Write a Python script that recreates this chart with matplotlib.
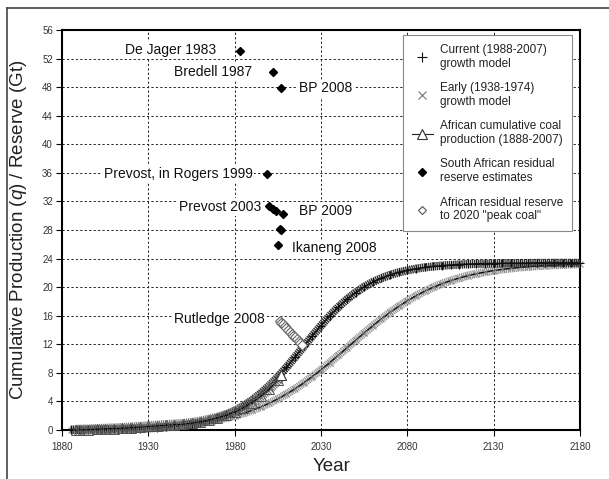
import matplotlib
matplotlib.use('Agg')
import matplotlib.pyplot as plt
from matplotlib.lines import Line2D

plt.rcParams['font.family'] = ['Liberation Sans', 'DejaVu Sans']
plt.rcParams['mathtext.fontset'] = 'custom'
plt.rcParams['mathtext.it'] = 'Liberation Sans:italic'
plt.rcParams['mathtext.rm'] = 'Liberation Sans'
plt.rcParams['lines.scale_dashes'] = False

# ---------------- data ----------------
model_years = list(range(1885, 2181, 5))
current_model = [0.02, 0.03, 0.04, 0.05, 0.07, 0.09, 0.11, 0.14, 0.18, 0.24,
                 0.30, 0.39, 0.50, 0.64, 0.82, 1.05, 1.34, 1.70, 2.14, 2.69,
                 3.36, 4.16, 5.11, 6.20, 7.43, 8.78, 10.22, 11.70, 13.18, 14.62,
                 15.97, 17.20, 18.29, 19.24, 20.04, 20.71, 21.26, 21.70, 22.07, 22.35,
                 22.58, 22.76, 22.90, 23.01, 23.10, 23.16, 23.22, 23.26, 23.29, 23.31,
                 23.33, 23.35, 23.36, 23.37, 23.38, 23.38, 23.39, 23.39, 23.39, 23.39]
early_model = [0.07, 0.08, 0.10, 0.12, 0.15, 0.17, 0.21, 0.25, 0.30, 0.35,
               0.42, 0.50, 0.60, 0.72, 0.85, 1.01, 1.20, 1.42, 1.69, 1.99,
               2.34, 2.75, 3.22, 3.75, 4.35, 5.03, 5.77, 6.59, 7.48, 8.42,
               9.41, 10.44, 11.49, 12.54, 13.58, 14.59, 15.55, 16.46, 17.31, 18.08,
               18.79, 19.42, 19.98, 20.47, 20.90, 21.27, 21.60, 21.88, 22.11, 22.32,
               22.49, 22.63, 22.76, 22.86, 22.95, 23.02, 23.08, 23.13, 23.18, 23.21]

prod_years = [1888, 1890, 1895, 1900, 1905, 1910, 1915, 1920, 1925, 1930, 1935, 1940,
              1945, 1950, 1955, 1960, 1965, 1970, 1975, 1980, 1985, 1990, 1995, 2000,
              2005, 2007]
production = [0.0, 0.02, 0.05, 0.10, 0.15, 0.20, 0.26, 0.33, 0.40, 0.50, 0.58, 0.66,
              0.74, 0.82, 0.96, 1.15, 1.40, 1.70, 2.05, 2.50, 3.10, 3.85, 4.70, 5.70,
              7.00, 7.70]

sa_years = [1983, 2002, 2007, 1999, 2000, 2002, 2004, 2008, 2006, 2007, 2005]
sa_reserve = [53.0, 50.1, 47.9, 35.9, 31.3, 31.0, 30.6, 30.3, 28.1, 28.0, 25.9]

peak_years = [2006, 2007, 2008, 2009, 2010, 2011, 2012, 2013, 2014, 2015, 2016,
              2017, 2018, 2019]
peak_reserve = [15.3, 15.0, 14.8, 14.5, 14.3, 14.0, 13.7, 13.5, 13.2, 13.0, 12.7,
                12.4, 12.2, 11.9]

labels_txt = ["De Jager 1983", "Bredell 1987", "BP 2008", "Prevost, in Rogers 1999",
              "Prevost 2003", "BP 2009", "Ikaneng 2008", "Rutledge 2008"]
labels_x = [1969, 1990, 2017.5, 1990.5, 1995.5, 2017.3, 2013, 1997.5]
labels_y = [53.2, 50.1, 47.85, 35.85, 31.2, 30.7, 25.45, 15.6]
labels_ha = ['right', 'right', 'left', 'right', 'right', 'left', 'left', 'right']

legend_labels = ["Current (1988-2007)\ngrowth model",
                 "Early (1938-1974)\ngrowth model",
                 "African cumulative coal\nproduction (1888-2007)",
                 "South African residual\nreserve estimates",
                 "African residual reserve\nto 2020 \"peak coal\""]

# ---------------- figure ----------------
W, H = 609, 479
fig = plt.figure(figsize=(W / 100, H / 100), dpi=100)
ax = fig.add_axes([62 / W, 1 - 430 / H, 518 / W, 400 / H])

ax.set_xlim(1880, 2180)
ax.set_ylim(0, 56)
ax.set_xticks(range(1880, 2181, 50))
ax.set_yticks(range(0, 57, 4))
ax.grid(True, color='#222222', linestyle=(0, (1.6, 1.6)), linewidth=0.7)
ax.set_axisbelow(True)
for s in ax.spines.values():
    s.set_linewidth(1.5)
    s.set_color('black')
ax.tick_params(axis='both', direction='out', length=4, width=0.8,
               labelsize=7, labelcolor='#333333')
ax.tick_params(axis='x', pad=4.5)
ax.tick_params(axis='y', pad=2.5)

ax.set_xlabel('Year', fontsize=13.5, color='#222222')
ax.xaxis.set_label_coords((332 - 62) / 518, (430 - 458) / 400)
ax.set_ylabel('Cumulative Production ($q$) / Reserve (Gt)', fontsize=13.5,
              color='#222222', va='center')
ax.yaxis.set_label_coords((19 - 62) / 518, 0.5)

# early growth model (grey band with dark centre)
ax.plot(model_years, early_model, color='#9a9a9a', lw=6, dashes=(0.9, 0.5),
        solid_capstyle='butt', zorder=3, clip_on=False)
ax.plot(model_years, early_model, color='#111111', lw=1.1, zorder=3.1, clip_on=False)
ax.plot(model_years, early_model, ls='none', marker='x', color='#8a8a8a', ms=4.5,
        mew=0.7, zorder=3.2, clip_on=False)

# current growth model (dark band)
ax.plot(model_years, current_model, color='#2e2e2e', lw=6, dashes=(1.0, 0.5),
        solid_capstyle='butt', zorder=4, clip_on=False)
ax.plot(model_years, current_model, color='#111111', lw=1.2, zorder=4.1, clip_on=False)
ax.plot(model_years, current_model, ls='none', marker='+', color='#111111', ms=5.5,
        mew=0.8, zorder=4.2, clip_on=False)

# cumulative production
ax.plot(prod_years, production, color='#707070', lw=7.5, dashes=(0.8, 0.6),
        solid_capstyle='butt', zorder=5, clip_on=False)
ax.plot(prod_years, production, color='black', lw=0.8, marker='^', mfc='none',
        mec='#505050', ms=6.5, mew=0.7, zorder=5.1, clip_on=False)
ax.plot(prod_years[-1:], production[-1:], ls='none', marker='^', mfc='white',
        mec='#404040', ms=7.5, mew=0.8, zorder=5.2, clip_on=False)

# peak-coal residual reserve
ax.plot(peak_years, peak_reserve, ls='none', marker='D', mfc='white', mec='#666666',
        ms=4.8, mew=0.8, zorder=6)

# South African reserve estimates
ax.plot(sa_years, sa_reserve, ls='none', marker='D', color='black', ms=4.3, zorder=7)

for t, x, y, ha in zip(labels_txt, labels_x, labels_y, labels_ha):
    ax.text(x, y, t, ha=ha, va='center', fontsize=10, color='#111111', zorder=8,
            bbox=dict(facecolor='white', edgecolor='none', pad=1.2))

handles = [
    Line2D([], [], ls='none', marker='+', color='#111111', ms=7, mew=0.8),
    Line2D([], [], ls='none', marker='x', color='#777777', ms=6, mew=0.8),
    Line2D([], [], ls='-', color='#222222', lw=0.8, marker='^', mfc='white',
           mec='#333333', ms=7, mew=0.8),
    Line2D([], [], ls='none', marker='D', color='black', ms=4.5),
    Line2D([], [], ls='none', marker='D', mfc='white', mec='#555555', ms=4.5, mew=0.8),
]
leg = ax.legend(handles, legend_labels, loc='upper left',
                bbox_to_anchor=(403 / W, 1 - 35 / H), bbox_transform=fig.transFigure,
                frameon=True, fancybox=False, edgecolor='#888888', framealpha=1,
                fontsize=8.5, labelspacing=1.05, handlelength=1.8, handletextpad=0.6,
                borderpad=0.75, borderaxespad=0)
leg.get_frame().set_linewidth(0.8)
leg.set_zorder(10)
for t in leg.get_texts():
    t.set_color('#222222')

# outer chart-area border
fig.add_artist(Line2D([7 / W, 7 / W], [0, 1 - 8 / H], transform=fig.transFigure,
                      color='#444444', lw=1.2))
fig.add_artist(Line2D([7 / W, 1], [1 - 8 / H, 1 - 8 / H], transform=fig.transFigure,
                      color='#444444', lw=1.2))

fig.savefig('out.png', dpi=100)
